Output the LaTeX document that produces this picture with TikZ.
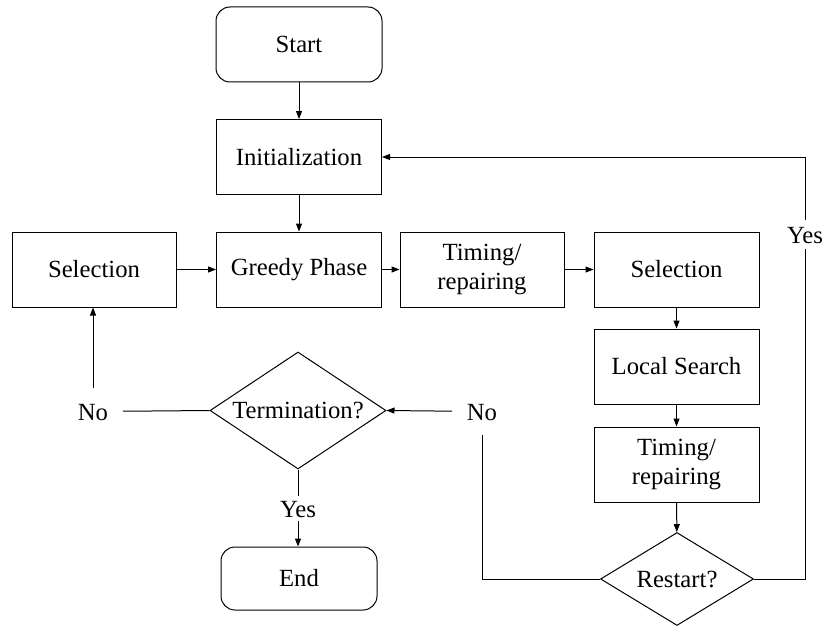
\documentclass[tikz,border=0pt]{standalone}
\usepackage{fontspec}
\setmainfont{Liberation Serif}
\usetikzlibrary{shapes.geometric,arrows.meta}
\begin{document}
\begin{tikzpicture}[x=1pt,y=-1pt,
  every node/.style={font=\fontsize{24.7}{28.5}\selectfont},
  proc/.style={draw, line width=1pt, rectangle, inner sep=0pt, align=center, minimum width=165pt, minimum height=75pt},
  term/.style={draw, line width=1pt, rectangle, rounded corners=14pt, inner sep=0pt, align=center},
  dec/.style={draw, line width=1pt, diamond, inner sep=0pt, align=center},
  lab/.style={inner sep=0pt, text height=17pt, text depth=0pt},
  conn/.style={line width=1pt},
  arr/.style={conn, -{Triangle[length=8pt,width=6pt]}}
]
\useasboundingbox (0,0) rectangle (825,626);

\node[term, minimum width=166pt, minimum height=75pt] (start) at (299,44.5) {Start};
\node[proc] (init) at (299,157) {Initialization};
\node[proc] (greedy) at (299,269.5) {Greedy Phase};
\node[proc, minimum width=164pt] (sel1) at (94,269.5) {Selection};
\node[proc, minimum width=164pt] (tim1) at (482,269.5) {Timing/\\repairing};
\node[proc] (sel2) at (676.5,269.5) {Selection};
\node[proc] (ls) at (676.5,366.5) {Local Search};
\node[proc] (tim2) at (676.5,464.5) {Timing/\\repairing};
\node[dec, aspect=1.65, minimum width=153pt, minimum height=93pt] (restart) at (677,579) {Restart?};
\node[dec, aspect=1.5, minimum width=176pt, minimum height=117pt] (termq) at (298,410.5) {Termination?};
\node[term, minimum width=156pt, minimum height=63pt] (endn) at (299,578.5) {End};

\node[lab, inner xsep=14.5pt, inner ysep=15pt] (noL) at (93,411.5) {No};
\node[lab, inner xsep=14.5pt, inner ysep=15pt] (noR) at (482,411.5) {No};
\node[lab, inner xsep=3pt, inner ysep=6pt] (yesR) at (805,234.5) {Yes};
\node[lab, inner xsep=3pt, inner ysep=4pt] (yesB) at (298,508.5) {Yes};

\draw[arr] (start) -- (init);
\draw[arr] (init) -- (greedy);
\draw[arr] (sel1) -- (greedy);
\draw[arr] (greedy) -- (tim1);
\draw[arr] (tim1) -- (sel2);
\draw[arr] (sel2) -- (ls);
\draw[arr] (ls) -- (tim2);
\draw[arr] (tim2) -- (restart);

\draw[conn] (restart.east) -| (yesR);
\draw[arr] (yesR) |- (init.east);

\draw[conn] (restart.west) -| (noR);
\draw[arr] (noR) -- (termq.east);

\draw[conn] (termq.west) -- (noL);
\draw[arr] (noL) -- (noL |- sel1.south);

\draw[conn] (termq.south) -- (yesB);
\draw[arr] (yesB) -- (yesB |- endn.north);
\end{tikzpicture}
\end{document}
